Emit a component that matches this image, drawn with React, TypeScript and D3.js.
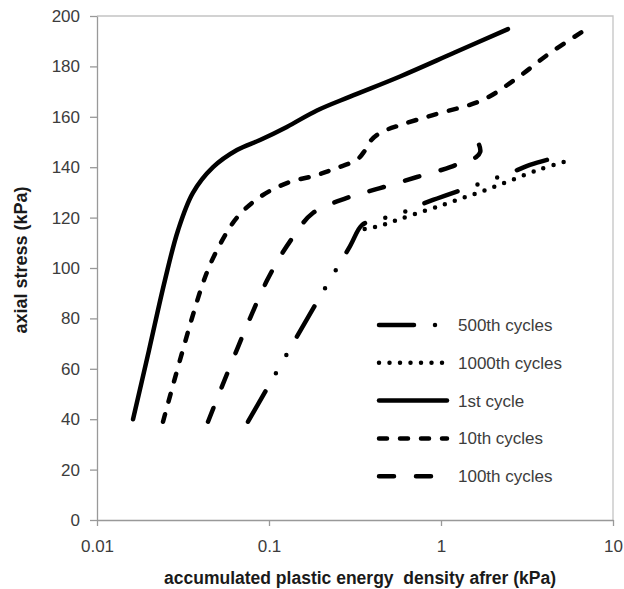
import React, { useEffect, useRef } from "react";
import * as d3 from "d3";

// tick values
const xTicks = [0.01, 0.1, 1, 10];
const yTicks = [0, 20, 40, 60, 80, 100, 120, 140, 160, 180, 200];

// series (energy in kPa, stress in kPa)
const cycle1X = [0.0162, 0.02, 0.0248, 0.0296, 0.0361, 0.0473, 0.0651, 0.0887, 0.127, 0.19, 0.296, 0.578, 1.2, 2.45];
const cycle1Y = [40, 67, 95, 115, 129.8, 140, 146.8, 150.8, 156, 162.5, 168, 176, 185.5, 194.8];

const cycle10X = [0.0242, 0.0413, 0.0498, 0.0651, 0.0887, 0.127, 0.19, 0.248, 0.325, 0.36, 0.39, 0.448, 0.578, 0.898, 1.75, 2.77, 4.3, 6.87];
const cycle10Y = [39, 94, 107, 120, 128.2, 133.7, 136.9, 139.7, 143, 146.5, 150.5, 153.8, 156.7, 160.7, 166.7, 175.4, 185.3, 194.4];

const cycle100X = [0.0442, 0.0973, 0.138, 0.18, 0.284, 0.442, 0.725, 1.13, 1.33, 1.6, 1.69, 1.65, 1.53];
const cycle100Y = [39, 95, 112.3, 121.8, 127.8, 131.7, 136.1, 140, 142, 144, 146, 149.5, 152];

const cycle500X = [0.0755, 0.193, 0.296, 0.347, 0.413, 0.555, 0.706, 0.898, 1.47, 1.93, 2.52, 3.29, 4.13];
const cycle500Y = [39, 87.3, 108.7, 117, 119, 121, 124.2, 127, 132.1, 134.9, 137.7, 140.9, 142.9];

const cycle1000X = [0.36, 0.442, 0.5, 0.987, 1.93, 3.77, 5.75];
const cycle1000Y = [115.5, 116.7, 118, 124.7, 131.6, 139.2, 142.9];

// legend order as in the picture
const legendNames = ["500th cycles", "1000th cycles", "1st cycle", "10th cycles", "100th cycles"];

const dashes: Record<string, string | null> = {
  "1st cycle": null,
  "10th cycles": "8 13",
  "100th cycles": "15 22",
  "500th cycles": "35 21 0 21 0 21",
  "1000th cycles": "0 10.5",
};

function zip(xs: number[], ys: number[]) {
  return xs.map((v, i) => [v, ys[i]] as [number, number]);
}

function App() {
  const ref = useRef<SVGSVGElement>(null);

  useEffect(() => {
    const svg = d3.select(ref.current);
    svg.selectAll("*").remove();

    const left = 97, right = 613, top = 16, bottom = 520;
    const x = d3.scaleLog().domain([0.01, 10]).range([left, right]);
    const y = d3.scaleLinear().domain([0, 200]).range([bottom, top]);

    // plot frame (top + right)
    svg.append("path")
      .attr("d", `M${left},${top}H${right}V${bottom}`)
      .attr("fill", "none")
      .attr("stroke", "#c4c4c4")
      .attr("stroke-width", 1.3);

    const font = "'Liberation Sans', Arial, sans-serif";

    const yAxis = svg.append("g")
      .attr("transform", `translate(${left},0)`)
      .call(d3.axisLeft(y).tickValues(yTicks).tickSize(7).tickSizeOuter(0).tickPadding(10));
    const xAxis = svg.append("g")
      .attr("transform", `translate(0,${bottom})`)
      .call(d3.axisBottom(x).tickValues(xTicks).tickFormat(d3.format("~g")).tickSize(6).tickSizeOuter(0).tickPadding(14));

    [yAxis, xAxis].forEach((g) => {
      g.select(".domain").attr("stroke", "#999").attr("stroke-width", 1.3);
      g.selectAll(".tick line").attr("stroke", "#999").attr("stroke-width", 1.3);
      g.selectAll(".tick text")
        .attr("font-family", font)
        .attr("font-size", 17)
        .attr("fill", "#3c3c3c");
    });

    // axis titles
    svg.append("text")
      .attr("x", 360)
      .attr("y", 584)
      .attr("text-anchor", "middle")
      .attr("font-family", font)
      .attr("font-size", 17.5)
      .attr("font-weight", "bold")
      .attr("fill", "#1a1a1a")
      .style("white-space", "pre")
      .text("accumulated plastic energy  density afrer (kPa)");

    svg.append("text")
      .attr("transform", "translate(27,260) rotate(-90)")
      .attr("text-anchor", "middle")
      .attr("font-family", font)
      .attr("font-size", 18)
      .attr("font-weight", "bold")
      .attr("fill", "#1a1a1a")
      .text("axial stress (kPa)");

    const series = [
      { name: "1st cycle", pts: zip(cycle1X, cycle1Y) },
      { name: "10th cycles", pts: zip(cycle10X, cycle10Y) },
      { name: "100th cycles", pts: zip(cycle100X, cycle100Y) },
      { name: "500th cycles", pts: zip(cycle500X, cycle500Y) },
      { name: "1000th cycles", pts: zip(cycle1000X, cycle1000Y) },
    ];

    const line = d3.line<[number, number]>()
      .x((d) => x(d[0]))
      .y((d) => y(d[1]))
      .curve(d3.curveCatmullRom.alpha(0.5));

    svg.append("g")
      .selectAll("path")
      .data(series)
      .join("path")
      .attr("d", (d) => line(d.pts))
      .attr("fill", "none")
      .attr("stroke", "#000")
      .attr("stroke-width", 4.5)
      .attr("stroke-linecap", "round")
      .attr("stroke-linejoin", "round")
      .attr("stroke-dasharray", (d) => dashes[d.name]);

    // legend inside plot area
    const lg = svg.append("g").attr("transform", "translate(379,325)");
    const rows = lg.selectAll("g")
      .data(legendNames)
      .join("g")
      .attr("transform", (d, i) => `translate(0,${i * 37.8})`);
    rows.append("line")
      .attr("x1", 0)
      .attr("x2", 68)
      .attr("stroke", "#000")
      .attr("stroke-width", 4.5)
      .attr("stroke-linecap", "round")
      .attr("stroke-dasharray", (d) => dashes[d]);
    rows.append("text")
      .attr("x", 79)
      .attr("dy", "0.35em")
      .attr("font-family", font)
      .attr("font-size", 17)
      .attr("fill", "#3c3c3c")
      .text((d) => d);
  }, []);

  return (
    <svg
      ref={ref}
      width={624}
      height={589}
      style={{ position: "absolute", left: 0, top: 0, background: "#fff" }}
    />
  );
}

export default App;
